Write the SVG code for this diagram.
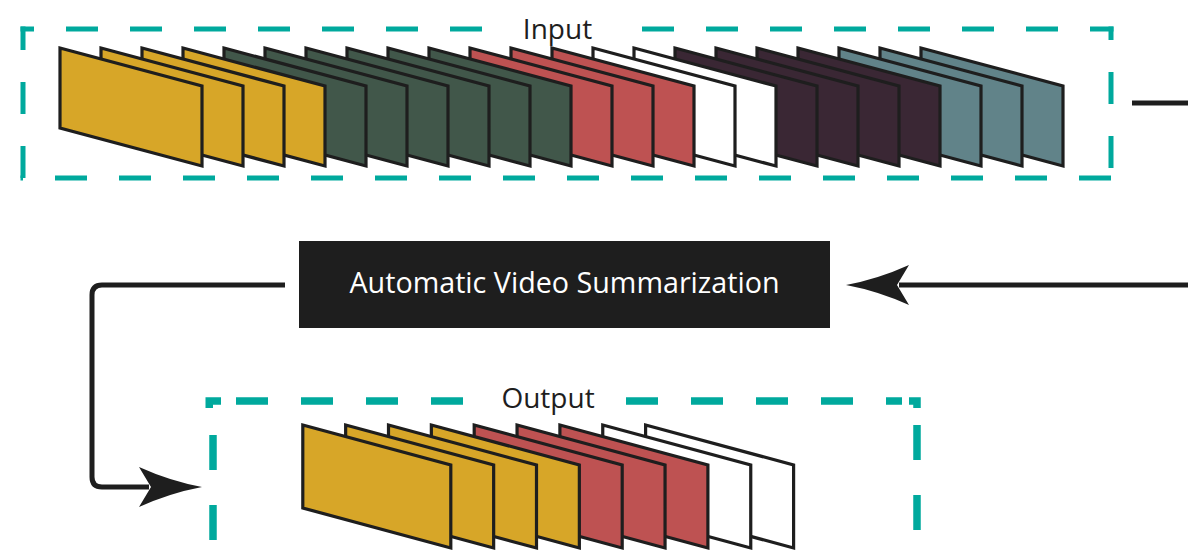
<svg xmlns="http://www.w3.org/2000/svg" xmlns:xlink="http://www.w3.org/1999/xlink" width="1188" height="555" viewBox="0 0 1188 555">
  <style>
    .dash-in { fill: none; stroke: #00A99D; stroke-width: 5; stroke-dasharray: 32 32; }
    .dash-out { fill: none; stroke: #00A99D; stroke-width: 7.5; }
    .frame { stroke: #1E1E1E; stroke-width: 3.2; stroke-linejoin: miter; }
    .y { fill: #D7A628; } .g { fill: #41574A; } .r { fill: #BE5252; }
    .w { fill: #FFFFFF; } .p { fill: #3A2734; } .t { fill: #618389; }
    .lbl { font-family: "Open Sans", "Noto Sans", sans-serif; font-size: 28px; fill: #1E1E1E; text-anchor: middle; }
    .box-text { font-family: "Open Sans", "Noto Sans", sans-serif; font-size: 28.7px; fill: #FFFFFF; text-anchor: middle; }
    .conn { fill: none; stroke: #1E1E1E; stroke-width: 5; }
  </style>
  <defs>
    <path id="fin" class="frame" d="M0,0 L142,38 L142,118 L0,80 Z"/>
    <path id="fout" class="frame" d="M0,0 L148,40 L148,123 L0,83 Z"/>
    <marker id="arrow" viewBox="0 0 66 44" markerWidth="66" markerHeight="44" markerUnits="userSpaceOnUse" refX="12" refY="22" orient="auto">
      <path d="M65,22 Q33,16 2,2 L14,22 L2,42 Q33,28 65,22 Z" fill="#1E1E1E"/>
    </marker>
  </defs>
  <rect width="1188" height="555" fill="#FFFFFF"/>

  <g id="input">
    <line class="dash-in" x1="20.5" y1="29" x2="1113.5" y2="29" stroke-dashoffset="18.5"/>
    <line class="dash-in" x1="23" y1="26.5" x2="23" y2="180.5" stroke-dashoffset="8.5"/>
    <line class="dash-in" x1="1111" y1="26.5" x2="1111" y2="178" stroke-dashoffset="18.5"/>
    <line class="dash-in" x1="20.5" y1="178" x2="1111" y2="178" stroke-dashoffset="29.5"/>
    <rect x="490" y="20" width="140" height="18" fill="#FFFFFF"/>
    <text class="lbl" x="557.5" y="39.3">Input</text>
    <g id="input-frames">
      <use xlink:href="#fin" class="t" x="921" y="48"/>
      <use xlink:href="#fin" class="t" x="880" y="48"/>
      <use xlink:href="#fin" class="t" x="839" y="48"/>
      <use xlink:href="#fin" class="p" x="798" y="48"/>
      <use xlink:href="#fin" class="p" x="757" y="48"/>
      <use xlink:href="#fin" class="p" x="716" y="48"/>
      <use xlink:href="#fin" class="p" x="675" y="48"/>
      <use xlink:href="#fin" class="w" x="634" y="48"/>
      <use xlink:href="#fin" class="w" x="593" y="48"/>
      <use xlink:href="#fin" class="r" x="552" y="48"/>
      <use xlink:href="#fin" class="r" x="511" y="48"/>
      <use xlink:href="#fin" class="r" x="470" y="48"/>
      <use xlink:href="#fin" class="g" x="429" y="48"/>
      <use xlink:href="#fin" class="g" x="388" y="48"/>
      <use xlink:href="#fin" class="g" x="347" y="48"/>
      <use xlink:href="#fin" class="g" x="306" y="48"/>
      <use xlink:href="#fin" class="g" x="265" y="48"/>
      <use xlink:href="#fin" class="g" x="224" y="48"/>
      <use xlink:href="#fin" class="y" x="183" y="48"/>
      <use xlink:href="#fin" class="y" x="142" y="48"/>
      <use xlink:href="#fin" class="y" x="101" y="48"/>
      <use xlink:href="#fin" class="y" x="60" y="48"/>
    </g>
  </g>

  <g id="summarizer">
    <rect x="299" y="241" width="531" height="87" fill="#1E1E1E"/>
    <text class="box-text" x="564.5" y="292.7">Automatic Video Summarization</text>
  </g>

  <g id="output">
    <path class="dash-out" d="M209.25,408 V401 H221"/>
    <line class="dash-out" x1="209.25" y1="401" x2="902" y2="401" stroke-dasharray="32 33" stroke-dashoffset="38.25"/>
    <path class="dash-out" d="M909,401 H917 V408"/>
    <line class="dash-out" x1="213" y1="408" x2="213" y2="560" stroke-dasharray="35 35" stroke-dashoffset="43"/>
    <line class="dash-out" x1="917" y1="408" x2="917" y2="560" stroke-dasharray="35 35" stroke-dashoffset="53"/>
    <rect x="478" y="390" width="140" height="18" fill="#FFFFFF"/>
    <text class="lbl" x="548" y="408.3">Output</text>
    <g id="output-frames">
      <use xlink:href="#fout" class="w" x="645.6" y="425"/>
      <use xlink:href="#fout" class="w" x="602.75" y="425"/>
      <use xlink:href="#fout" class="r" x="559.9" y="425"/>
      <use xlink:href="#fout" class="r" x="517.05" y="425"/>
      <use xlink:href="#fout" class="r" x="474.2" y="425"/>
      <use xlink:href="#fout" class="y" x="431.35" y="425"/>
      <use xlink:href="#fout" class="y" x="388.5" y="425"/>
      <use xlink:href="#fout" class="y" x="345.65" y="425"/>
      <use xlink:href="#fout" class="y" x="302.8" y="425"/>
    </g>
  </g>

  <g id="connectors">
    <path class="conn" d="M1132,103 H1200 V285 H899" marker-end="url(#arrow)"/>
    <path class="conn" d="M285,285 H102 Q92,285 92,295 V477 Q92,487 102,487 H149" marker-end="url(#arrow)"/>
  </g>
</svg>
